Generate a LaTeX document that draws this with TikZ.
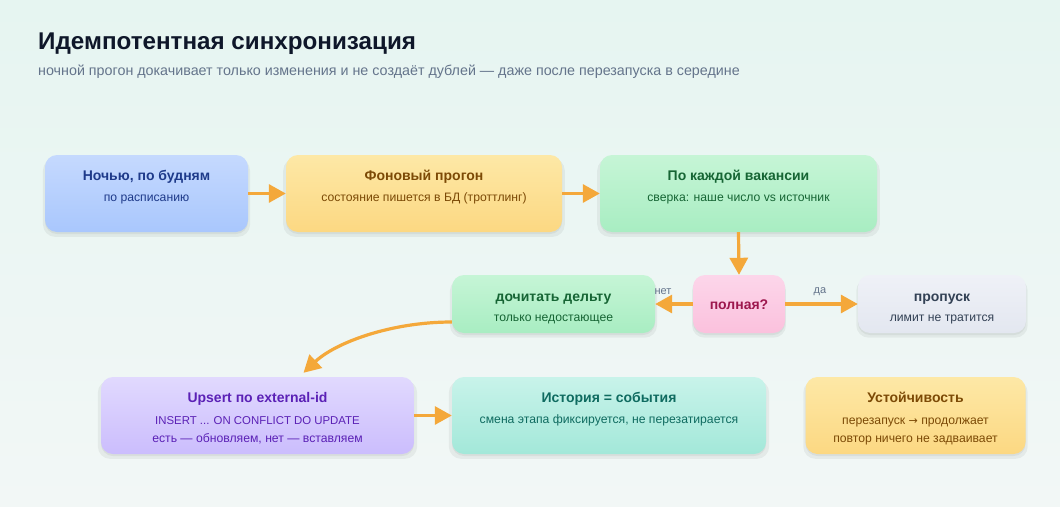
\documentclass[tikz,border=0pt]{standalone}
\usepackage{fontspec}
\setmainfont{Liberation Sans}
\newfontfamily\symfont{DejaVu Sans}
\usetikzlibrary{arrows.meta,shadows}
\definecolor{bgtop}{HTML}{E6F5F1}
\definecolor{bgbot}{HTML}{F2F7F6}
\definecolor{arr}{HTML}{F4A83A}
\definecolor{ttlc}{HTML}{0F172A}
\definecolor{subc}{HTML}{64748B}
\definecolor{blueA}{HTML}{C5D9FE}\definecolor{blueB}{HTML}{A9C7FD}\definecolor{blueT}{HTML}{1E3A8A}
\definecolor{yelA}{HTML}{FDE8A6}\definecolor{yelB}{HTML}{FCD882}\definecolor{yelT}{HTML}{7C4A06}
\definecolor{grnA}{HTML}{C6F5D6}\definecolor{grnB}{HTML}{A8EDC2}\definecolor{grnT}{HTML}{166534}
\definecolor{pnkA}{HTML}{FCD6EA}\definecolor{pnkB}{HTML}{FBC1DD}\definecolor{pnkT}{HTML}{9D174D}
\definecolor{gryA}{HTML}{EFF1F7}\definecolor{gryB}{HTML}{E3E7F0}\definecolor{gryT}{HTML}{334155}
\definecolor{purA}{HTML}{E1D9FE}\definecolor{purB}{HTML}{CBBDFD}\definecolor{purT}{HTML}{5B21B6}
\definecolor{tealA}{HTML}{C8F3EA}\definecolor{tealB}{HTML}{A3E8D9}\definecolor{tealT}{HTML}{0F6B60}
\tikzset{
  boxbase/.style={rounded corners=12pt, inner sep=0pt,
    drop shadow={shadow xshift=0pt, shadow yshift=-4pt, shadow scale=1.02, opacity=0.05, fill=black},
    drop shadow={shadow xshift=0pt, shadow yshift=-2pt, opacity=0.05, fill=black}},
  bxblue/.style={boxbase, top color=blueA, bottom color=blueB},
  bxyel/.style={boxbase, top color=yelA, bottom color=yelB},
  bxgrn/.style={boxbase, top color=grnA, bottom color=grnB},
  bxpnk/.style={boxbase, top color=pnkA, bottom color=pnkB},
  bxgry/.style={boxbase, top color=gryA, bottom color=gryB},
  bxpur/.style={boxbase, top color=purA, bottom color=purB},
  bxteal/.style={boxbase, top color=tealA, bottom color=tealB},
  ttl/.style={font=\fontsize{14}{16}\selectfont\bfseries, inner sep=0pt, anchor=base},
  sub/.style={font=\fontsize{12.2}{14}\selectfont, inner sep=0pt, anchor=base},
  conn/.style={draw=arr, line width=3.2pt, -{Triangle[length=17pt,width=18pt]}},
  lbl/.style={font=\fontsize{11}{13}\selectfont, text=subc, inner sep=0pt},
}
\begin{document}
\begin{tikzpicture}[x=1pt,y=-1pt]
\shade[top color=bgtop, bottom color=bgbot] (0,0) rectangle (1060,506);
\useasboundingbox (0,0) rectangle (1060,506);

\node[anchor=base west, font=\fontsize{24.2}{28}\selectfont\bfseries, text=ttlc, inner sep=0pt] (title) at (38,49.5) {Идемпотентная синхронизация};
\node[anchor=base west, font=\fontsize{14.3}{17}\selectfont, text=subc, inner sep=0pt] (subtitle) at (38,75) {ночной прогон докачивает только изменения и не создаёт дублей — даже после перезапуска в середине};

% boxes
\node[bxblue, minimum width=203pt, minimum height=77pt] (b1) at (146.5,193.5) {};
\node[bxyel, minimum width=276pt, minimum height=77pt] (b2) at (424,193.5) {};
\node[bxgrn, minimum width=277pt, minimum height=77pt] (b3) at (738.5,193.5) {};
\node[bxpnk, minimum width=92pt, minimum height=58pt] (b4) at (739,304) {};
\node[bxgrn, minimum width=203pt, minimum height=58pt] (b5) at (553.5,304) {};
\node[bxgry, minimum width=168pt, minimum height=58pt] (b6) at (942,304) {};
\node[bxpur, minimum width=313pt, minimum height=77pt] (b7) at (257.5,415.5) {};
\node[bxteal, minimum width=314pt, minimum height=77pt] (b8) at (609,415.5) {};
\node[bxyel, minimum width=220pt, minimum height=77pt] (b9) at (915.5,415.5) {};

% texts
\node[ttl, text=blueT] (t1) at ([yshift=-26pt]b1.north) {Ночью, по будням};
\node[sub, text=blueT] (s1) at ([yshift=-46.5pt]b1.north) {по расписанию};
\node[ttl, text=yelT] (t2) at ([yshift=-26pt]b2.north) {Фоновый прогон};
\node[sub, text=yelT] (s2) at ([yshift=-46.5pt]b2.north) {состояние пишется в БД (троттлинг)};
\node[ttl, text=grnT] (t3) at ([yshift=-26pt]b3.north) {По каждой вакансии};
\node[sub, text=grnT] (s3) at ([yshift=-46.5pt]b3.north) {сверка: наше число vs источник};
\node[ttl, text=pnkT] (t4) at ([yshift=-34.5pt]b4.north) {полная?};
\node[ttl, text=grnT] (t5) at ([yshift=-26.5pt]b5.north) {дочитать дельту};
\node[sub, text=grnT] (s5) at ([yshift=-47pt]b5.north) {только недостающее};
\node[ttl, text=gryT] (t6) at ([yshift=-26.5pt]b6.north) {пропуск};
\node[sub, text=gryT] (s6) at ([yshift=-47pt]b6.north) {лимит не тратится};
\node[ttl, text=purT] (t7) at ([yshift=-26pt]b7.north) {Upsert по external-id};
\node[sub, text=purT, font=\fontsize{11.4}{13}\selectfont] (s7) at ([yshift=-47.5pt]b7.north) {INSERT ... ON CONFLICT DO UPDATE};
\node[sub, text=purT] (s7b) at ([yshift=-65.5pt]b7.north) {есть — обновляем, нет — вставляем};
\node[ttl, text=tealT] (t8) at ([yshift=-26pt]b8.north) {История = события};
\node[sub, text=tealT] (s8) at ([yshift=-46.5pt]b8.north) {смена этапа фиксируется, не перезатирается};
\node[ttl, text=yelT] (t9) at ([yshift=-26pt]b9.north) {Устойчивость};
\node[sub, text=yelT] (s9) at ([yshift=-48pt]b9.north) {перезапуск {\symfont\fontsize{11}{13}\selectfont →} продолжает};
\node[sub, text=yelT] (s9b) at ([yshift=-65.5pt]b9.north) {повтор ничего не задваивает};

% connectors
\draw[conn] (b1.east) -- (b2.west);
\draw[conn] (b2.east) -- (b3.west);
\draw[conn] (b3.south) -- (b4.north);
\draw[conn] (b4.west) -- (b5.east);
\draw[conn] (b4.east) -- (b6.west);
\draw[conn] ([yshift=-18pt]b5.west) .. controls (390,322) and (335,343) .. ([xshift=46pt,yshift=4pt]b7.north);
\draw[conn] (b7.east) -- (b8.west);

\node[lbl] (no) at (663,292) {нет};
\node[lbl] (yes) at (820,292) {да};
\end{tikzpicture}
\end{document}
